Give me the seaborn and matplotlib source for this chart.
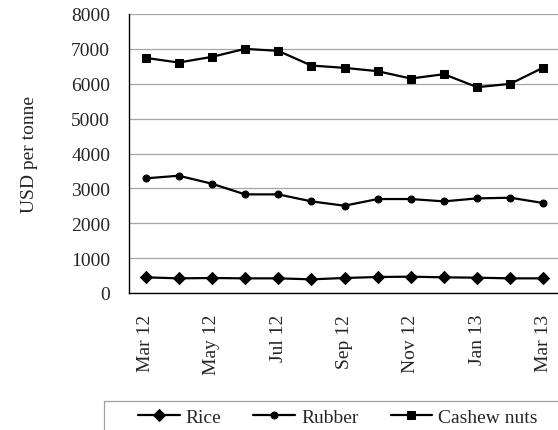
import numpy as np
import pandas as pd
import seaborn as sns
import matplotlib.pyplot as plt
from matplotlib.patches import Rectangle

months = ["Mar 12", "Apr 12", "May 12", "Jun 12", "Jul 12", "Aug 12", "Sep 12",
          "Oct 12", "Nov 12", "Dec 12", "Jan 13", "Feb 13", "Mar 13"]
rice = [449, 420, 430, 420, 420, 392, 430, 459, 468, 449, 439, 420, 420]
rubber = [3287, 3363, 3134, 2828, 2828, 2627, 2503, 2694, 2694, 2627, 2713, 2732, 2580]
cashew = [6742, 6608, 6771, 7000, 6943, 6522, 6456, 6360, 6150, 6274, 5902, 5997, 6465]

df = pd.DataFrame({"month": months, "Rice": rice, "Rubber": rubber, "Cashew nuts": cashew})
df["pos"] = np.arange(len(months))

sns.set_style("white")
plt.rcParams["font.family"] = ["Liberation Serif", "DejaVu Serif"]
plt.rcParams["font.size"] = 14

W, H = 558, 431
fig = plt.figure(figsize=(W / 100, H / 100), dpi=100)
ax = fig.add_axes([129 / W, 1 - 294 / H, (560 - 129) / W, (294 - 15) / H])

markers = {"Rice": ("D", 6.5), "Rubber": ("o", 5), "Cashew nuts": ("s", 6)}
for name, (m, ms) in markers.items():
    sns.lineplot(data=df, x="pos", y=name, ax=ax, color="black", linewidth=1.6,
                 marker=m, markersize=ms, markeredgecolor="black", label=name)

ax.set_xlim(-0.5, 12.5)
ax.set_ylim(0, 8000)
ax.set_yticks(range(0, 8001, 1000))
ax.set_xticks(range(0, 13, 2))
ax.set_xticklabels(months[::2], rotation=90)
ax.set_xticks(np.arange(-0.5, 12.6, 2), minor=True)
ax.tick_params(axis="x", which="major", length=0, pad=15)
ax.tick_params(axis="x", which="minor", length=4.5, width=0.8, color="#808080", direction="out")
ax.tick_params(axis="y", length=4.5, width=0.8, color="black", direction="out", pad=9)
ax.tick_params(labelsize=14)
ax.yaxis.grid(True, color="#a6a6a6", linewidth=0.9)
ax.set_axisbelow(True)
for s in ["top", "right"]:
    ax.spines[s].set_visible(False)
for s in ["left", "bottom"]:
    ax.spines[s].set_color("black")
    ax.spines[s].set_linewidth(1.0)
ax.set_xlabel("")
ax.set_ylabel("USD per tonne", fontsize=14, labelpad=24)

ax.get_legend().remove()
handles, labels = ax.get_legend_handles_labels()
leg = fig.legend(handles, labels, ncol=3, loc="center left",
                 bbox_to_anchor=(138 / W, 1 - 418 / H), frameon=False,
                 handlelength=2.15, columnspacing=1.65, handletextpad=0.3,
                 borderpad=0, borderaxespad=0, fontsize=14, numpoints=1)
fig.patches.append(Rectangle((104 / W, -0.05), 1.0, 0.05 + 1 - 402 / H,
                             transform=fig.transFigure, fill=False,
                             edgecolor="#a0a0a0", linewidth=0.9))

fig.savefig("out.png", dpi=100)
